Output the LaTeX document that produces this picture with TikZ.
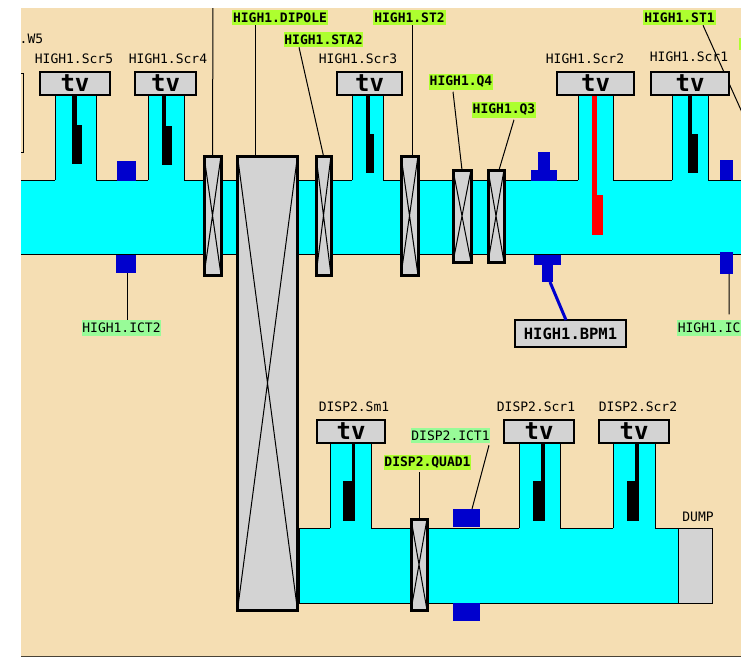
\documentclass[tikz,border=0pt]{standalone}
\usepackage{fontspec}
\setmonofont{DejaVu Sans Mono}
\definecolor{wheatbg}{HTML}{F5DEB3}
\definecolor{devgray}{HTML}{D3D3D3}
\definecolor{ictblue}{HTML}{0000CD}
\definecolor{magtag}{HTML}{ADFF2F}
\definecolor{icttag}{HTML}{98FB98}
\definecolor{beamcyan}{HTML}{00FFFF}
\definecolor{rodred}{HTML}{FF0000}
\begin{document}
\begin{tikzpicture}[
      x=1pt, y=-1pt,
      every node/.style={font=\ttfamily\fontsize{13}{13}\selectfont, inner sep=0.8pt, outer sep=0pt},
      beam/.style={fill=beamcyan, draw=black, line width=1pt},
      tvbox/.style={draw=black, fill=devgray, line width=2.2pt, minimum height=23pt, inner sep=0pt,
        font=\ttfamily\bfseries\fontsize{24}{24}\selectfont},
      magnet/.style={draw=black, fill=devgray, line width=3pt, inner sep=0pt},
      blueblock/.style={fill=ictblue, inner sep=0pt},
      magname/.style={fill=magtag, minimum height=15.5pt, font=\ttfamily\bfseries\fontsize{13}{13}\selectfont},
      ictname/.style={fill=icttag, minimum height=15.5pt},
      link/.style={draw=black, line width=1pt}
    ]
    \useasboundingbox (0,0) rectangle (741,657);
    \fill[white] (0,0) rectangle (741,657);
    \fill[wheatbg] (21,8) rectangle (741,656);
    \draw[black!70!wheatbg, line width=1pt] (21,656.5) -- (741,656.5);
    \begin{scope}
    \clip (21,8) rectangle (741,657);
    \coordinate (topfree) at (213,0);
    \coordinate (stoneend) at (745,119);
    \draw[line width=1pt] (5,73) rectangle (23,152);

    % beam pipes
    \draw[beam] (15,180) rectangle (750,254);
    \draw[beam] (299,528) rectangle (678,603);
    \node[fill=devgray, draw=black, line width=1pt, inner sep=0pt, minimum width=34pt, minimum height=75pt] (dump) at (695,565.5) {};
    \node (dumpname) at (698,517) {DUMP};

    % connector behind the screen
    \node[magname, anchor=center] (stonename) at (679.5,17.5) {HIGH1.ST1};
    \draw[link] ([xshift=23.5pt]stonename.south) -- (stoneend);

    % screens on their side arms
    \foreach \nm/\txt/\cx/\bw/\sa/\sb/\yt/\yb/\ly/\lx in {
        hfive/HIGH1.Scr5/75/70/55/96/96/180/59/74,
        hfour/HIGH1.Scr4/165.5/61/148/184/96/180/59/168,
        hthree/HIGH1.Scr3/369.5/65/352/383/96/180/59/358,
        htwo/HIGH1.Scr2/595.5/77/578/613/96/180/59/585,
        hone/HIGH1.Scr1/690/78/672/708/96/180/57/689,
        dsm/DISP2.Sm1/351/68/330/371/444/528/407/354,
        dsone/DISP2.Scr1/539/70/519/560/444/528/407/536,
        dstwo/DISP2.Scr2/634/70/613/655/444/528/407/638} {
      \fill[beamcyan] (\sa,\yt) rectangle (\sb,\yb+1);
      \draw[line width=1pt] (\sa,\yt) -- (\sa,\yb) (\sb,\yt) -- (\sb,\yb);
      \node[tvbox, minimum width=\bw pt] (tv\nm) at (\cx,\yt-12.5) {tv};
      \node (name\nm) at (\lx,\ly) {\txt};
    }
    \foreach \ra/\rb/\wa/\wb/\yt/\ym/\ye/\col in {
        72/77/72/82/96/125/164/black,
        162/166/162/172/96/126/165/black,
        366/370/366/374/96/134/173/black,
        592/597/592/603/96/195/235/rodred,
        688/692/688/698/96/134/173/black,
        352/355/343/355/444/481/521/black,
        541/545/533/545/444/481/521/black,
        635/639/627/639/444/481/521/black} {
      \fill[\col] (\ra,\yt) rectangle (\rb,\ym);
      \fill[\col] (\wa,\ym) rectangle (\wb,\ye);
    }

    % quadrupoles and dipole
    \foreach \nm/\cx/\cy/\bw/\bh in {
        mfree/212.5/215.5/17/119,
        mdipole/267.5/383/60/454,
        msta/323.5/215.5/15/119,
        mst/409.5/215.5/17/119,
        mqfour/462/216/18/92,
        mqthree/496/216/16/92,
        mquad/419/564.5/16/91} {
      \node[magnet, minimum width=\bw pt, minimum height=\bh pt] (\nm) at (\cx,\cy) {};
      \draw[line width=1pt] (\nm.north west) -- (\nm.south east) (\nm.north east) -- (\nm.south west);
    }

    % current monitors and position monitor
    \node[blueblock, minimum width=19pt, minimum height=20pt] (ictup) at (126.5,171) {};
    \node[blueblock, minimum width=20pt, minimum height=18pt] (ictlow) at (126,264) {};
    \node[blueblock, minimum width=13pt, minimum height=20pt] (ictoneup) at (726.5,170) {};
    \node[blueblock, minimum width=13pt, minimum height=22pt] (ictonelow) at (726.5,263) {};
    \node[blueblock, minimum width=12pt, minimum height=18pt] (bpmupn) at (544,161) {};
    \node[blueblock, minimum width=26pt, minimum height=11pt] (bpmup) at (544,175.5) {};
    \node[blueblock, minimum width=27pt, minimum height=10pt] (bpmlow) at (547.5,260) {};
    \node[blueblock, minimum width=11pt, minimum height=17pt] (bpmlown) at (547.5,273.5) {};
    \node[blueblock, minimum width=27pt, minimum height=18pt] (dictup) at (466.5,518) {};
    \node[blueblock, minimum width=27pt, minimum height=18pt] (dictlow) at (466.5,612) {};

    % names
    \node[magname] (dipolename) at (280,17.5) {HIGH1.DIPOLE};
    \node[magname] (staname) at (323.5,39.5) {HIGH1.STA2};
    \node[magname] (stname) at (409.5,17.5) {HIGH1.ST2};
    \node[magname] (qfourname) at (461,82) {HIGH1.Q4};
    \node[magname] (qthreename) at (504,110) {HIGH1.Q3};
    \node[magname] (quadname) at (427.5,462.5) {DISP2.QUAD1};
    \node[magname, minimum width=8pt, minimum height=12pt] (rightname) at (743,44) {};
    \node[ictname] (ictname) at (121.5,328) {HIGH1.ICT2};
    \node[ictname] (dictname) at (450.5,435.5) {DISP2.ICT1};
    \node[ictname, anchor=west] (ictonename) at (677,328) {HIGH1.IC};
    \node[anchor=east] (wfivename) at (44,39) {.W5};
    \node[draw=black, fill=devgray, line width=2.2pt, inner sep=0pt, minimum width=111pt, minimum height=27pt,
      font=\ttfamily\bfseries\fontsize{15.5}{15.5}\selectfont] (bpmname) at (570.5,333.5) {HIGH1.BPM1};

    % connectors
    \draw[link] (topfree) -- (mfree.north);
    \draw[link] ([xshift=-25pt]dipolename.south) -- ([xshift=-12.5pt]mdipole.north);
    \draw[link] ([xshift=-24.5pt]staname.south) -- (msta.north);
    \draw[link] ([xshift=2.5pt]stname.south) -- ([xshift=2.5pt]mst.north);
    \draw[link] ([xshift=-8pt,yshift=-2pt]qfourname.south) -- (mqfour.north);
    \draw[link] ([xshift=10pt,yshift=-2pt]qthreename.south) -- ([xshift=3pt]mqthree.north);
    \draw[link] ([xshift=1pt]ictlow.south) -- ([xshift=5.5pt]ictname.north);
    \draw[link, shorten >=6pt] ([xshift=2.5pt]ictonelow.south) -- ([xshift=20pt]ictonename.north);
    \draw[link] ([xshift=38.5pt,yshift=-2pt]dictname.south) -- ([xshift=5.5pt]dictup.north);
    \draw[link] ([xshift=-8.5pt,yshift=-2pt]quadname.south) -- (mquad.north);
    \draw[ictblue, line width=3pt] ([xshift=2.5pt]bpmlown.south) -- ([xshift=-4.5pt]bpmname.north);
    \end{scope}
\end{tikzpicture}
\end{document}
